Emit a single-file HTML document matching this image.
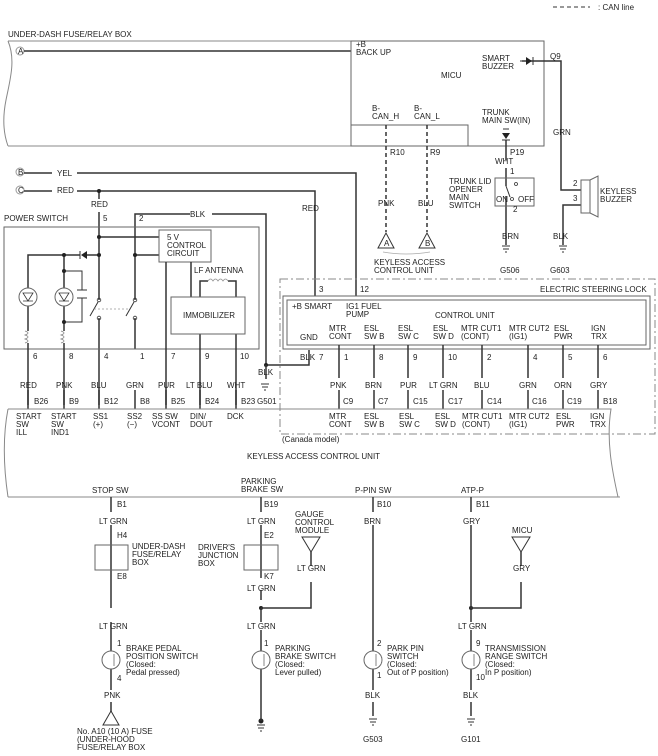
<!DOCTYPE html>
<html><head><meta charset="utf-8"><style>
html,body{margin:0;padding:0;background:#fff;}
svg{display:block;}
text{font-family:"Liberation Sans",sans-serif;font-size:8px;fill:#222;}
</style></head><body>
<svg width="658" height="756" viewBox="0 0 658 756" xmlns="http://www.w3.org/2000/svg">
<g stroke="#333" fill="none" stroke-width="1.5">
<line x1="553" y1="7" x2="590" y2="7" stroke-dasharray="4,3" stroke-width="1"/>
<path d="M8,41 H351 M8,146 H351 M8,41 C16,60 10,80 6,100 C2,120 4,135 8,146" stroke="#888" stroke-width="1"/>
<circle cx="20" cy="51" r="4" stroke="#999" stroke-width="1" fill="#fff"/>
<line x1="24" y1="51" x2="351" y2="51"/>
<rect x="351" y="41" width="193" height="105" stroke="#666" stroke-width="1"/>
<path d="M351,125 H468 V146" stroke="#666" stroke-width="1"/>
<path d="M522,61 H561 V190 H581 M581,205 H563 V245" />
<path d="M520,61 L526,61" stroke-width="1"/>
<polygon points="526,57 526,65 532,61" fill="#222" stroke="none"/>
<line x1="533" y1="57" x2="533" y2="65" stroke-width="1"/>
<line x1="503" y1="129" x2="509" y2="129" stroke-width="1"/>
<polygon points="502,133 510,133 506,139" fill="#222" stroke="none"/>
<line x1="502" y1="140" x2="510" y2="140" stroke-width="1"/>
<path d="M506,140 V160 M506,168 V186 M506,196 V245" />
<rect x="495" y="178" width="39" height="28" stroke="#666" stroke-width="1"/>
<path d="M506,186 L510,197" stroke-width="1"/>
<circle cx="516" cy="184" r="1.5" stroke-width="0.8"/>
<circle cx="512" cy="199" r="1.5" stroke-width="0.8"/>
<rect x="581" y="180" width="9" height="33" stroke="#666" stroke-width="1"/>
<path d="M590,180 L598,176 V217 L590,213" stroke="#666" stroke-width="1"/>
<path d="M386,125 V232 M427,125 V232" stroke-dasharray="4,3"/>
<polygon points="378,248 394,248 386,233" stroke-width="1"/>
<polygon points="419,248 435,248 427,233" stroke-width="1"/>
<path d="M383,252 Q406,256 430,252" stroke="#aaa" stroke-width="0.8"/>
<g stroke-width="1">
<path d="M502,246 H510 M503,249 H509 M505,252 H507"/>
<path d="M559,246 H567 M560,249 H566 M562,252 H564"/>
<path d="M261,384 H269 M262,387 H268 M264,390 H266"/>
<path d="M369,719 H377 M370,722 H376 M372,725 H374"/>
<path d="M467,719 H475 M468,722 H474 M470,725 H472"/>
<path d="M257,725 H265 M258,728 H264 M260,731 H262"/>
</g>
<circle cx="20" cy="172" r="4" stroke="#999" stroke-width="1" fill="#fff"/>
<circle cx="20" cy="190" r="4" stroke="#999" stroke-width="1" fill="#fff"/>
<path d="M24,173 H52 M77,173 H356 V296"/>
<path d="M24,191 H52 M77,191 H315 V296"/>
<path d="M99,191 V199 M99,212 V300 M99,318 V405"/>
<path d="M135,349 V318 M135,300 V214 H190 M212,214 H266 V365 H309 V350"/>
<rect x="4" y="227" width="255" height="122" stroke="#666" stroke-width="1"/>
<path d="M99,237 H159 M135,255 H159"/>
<rect x="159" y="230" width="52" height="32" stroke="#666" stroke-width="1"/>
<path d="M99,255 H87 M80,255 H28 V288 M28,306 V331 M28,343 V405"/>
<polygon points="87,251 87,259 81,255" fill="#222" stroke="none"/>
<line x1="80" y1="251" x2="80" y2="259" stroke-width="1"/>
<path d="M64,255 V288 M64,306 V331 M64,343 V405"/>
<path d="M64,271 H82 V290 M82,298 V322 H64" stroke-width="1"/>
<path d="M77,290 H87 M77,298 H87" stroke-width="1"/>
<circle cx="28" cy="297" r="9" stroke="#666" stroke-width="1"/>
<circle cx="64" cy="297" r="9" stroke="#666" stroke-width="1"/>
<path d="M23,293 H33 L28,301 Z M23,301 H33 M59,293 H69 L64,301 Z M59,301 H69" stroke-width="0.8"/>
<path d="M25,331 Q31,333 25,335 Q31,337 25,339 Q31,341 25,343 M61,331 Q67,333 61,335 Q67,337 61,339 Q67,341 61,343" stroke="#888" stroke-width="0.8"/>
<circle cx="99" cy="300" r="1.8" stroke-width="0.8"/>
<circle cx="99" cy="318" r="1.8" stroke-width="0.8"/>
<circle cx="135" cy="300" r="1.8" stroke-width="0.8"/>
<circle cx="135" cy="318" r="1.8" stroke-width="0.8"/>
<path d="M98,302 L90,316 M134,302 L126,316" stroke-width="1"/>
<path d="M94,309 H130" stroke="#999" stroke-width="0.8" stroke-dasharray="2,2"/>
<path d="M166,262 V405 M191,262 V297 M200,297 V281 H208 M228,281 H236 V297 M200,334 V405 M236,334 V405"/>
<path d="M208,281 q2.5,-4 5,0 q2.5,-4 5,0 q2.5,-4 5,0 q2.5,-4 5,0" stroke="#999" stroke-width="0.8"/>
<rect x="171" y="297" width="74" height="37" stroke="#666" stroke-width="1"/>
<g fill="#222" stroke="none">
<circle cx="99" cy="191" r="2"/><circle cx="99" cy="237" r="2"/><circle cx="99" cy="255" r="2"/>
<circle cx="135" cy="255" r="2"/><circle cx="64" cy="255" r="2"/><circle cx="64" cy="271" r="2"/>
<circle cx="64" cy="322" r="2"/><circle cx="266" cy="365" r="2"/>
<circle cx="261" cy="608" r="2"/><circle cx="471" cy="608" r="2"/><circle cx="261" cy="721" r="2.5"/>
</g>
<path d="M266,365 V379"/>
<rect x="280" y="279" width="375" height="155" stroke="#888" stroke-width="1" stroke-dasharray="8,3,2,3"/>
<rect x="283" y="296" width="367" height="53" stroke="#666" stroke-width="1"/>
<rect x="287" y="300" width="359" height="45" stroke="#666" stroke-width="1"/>
<path d="M339,345 V378 M339,390 V409 M374,345 V378 M374,390 V409 M408,345 V378 M408,390 V409 M443,345 V378 M443,390 V409 M482,345 V378 M482,390 V409 M528,345 V378 M528,390 V409 M563,345 V378 M563,390 V409 M598,345 V378 M598,390 V409"/>
<path d="M28,390 V409 M64,390 V409 M99,390 V409 M135,390 V409 M166,390 V409 M200,390 V409 M236,390 V409" />
<path d="M8,409 H611 C606,440 612,470 618,497 M8,497 H620 M8,409 C2,440 4,470 8,497" stroke="#888" stroke-width="1"/>
<path d="M111,497 V512 M111,525 V608 M111,622 V651 M111,669 V690 M111,702 V712"/>
<rect x="95" y="545" width="33" height="25" stroke="#666" stroke-width="1"/>
<polygon points="103,725 119,725 111,711" stroke-width="1"/>
<path d="M261,497 V512 M261,525 V578 M261,590 V600 M261,608 V622 M261,630 V651 M261,669 V721 M261,608 H311 V582 M311,552 V566"/>
<rect x="244" y="545" width="34" height="25" stroke="#666" stroke-width="1"/>
<polygon points="302,537 320,537 311,552" stroke-width="1"/>
<path d="M373,497 V512 M373,525 V651 M373,669 V690 M373,702 V716"/>
<path d="M471,497 V512 M471,525 V622 M471,630 V651 M471,669 V690 M471,702 V716 M471,608 H521 V582 M521,552 V566"/>
<polygon points="512,537 530,537 521,552" stroke-width="1"/>
<g stroke="#666" stroke-width="1">
<circle cx="111" cy="660" r="9"/><circle cx="261" cy="660" r="9"/><circle cx="373" cy="660" r="9"/><circle cx="471" cy="660" r="9"/>
<path d="M114,654 V666 M264,654 V666 M376,654 V666 M474,654 V666" stroke-width="0.8"/>
</g>
</g>
<text x="598" y="10">: CAN line</text>
<text x="8" y="37">UNDER-DASH FUSE/RELAY BOX</text>
<text x="18" y="54" font-size="7">A</text>
<text x="18" y="175" font-size="7">B</text>
<text x="18" y="193" font-size="7">C</text>
<text x="356" y="47">+B</text><text x="356" y="55">BACK UP</text>
<text x="441" y="78">MICU</text>
<text x="482" y="61">SMART</text><text x="482" y="69">BUZZER</text>
<text x="550" y="59">Q9</text>
<text x="372" y="111">B-</text><text x="372" y="119">CAN_H</text>
<text x="414" y="111">B-</text><text x="414" y="119">CAN_L</text>
<text x="482" y="115">TRUNK</text><text x="482" y="123">MAIN SW(IN)</text>
<text x="390" y="155">R10</text><text x="430" y="155">R9</text><text x="510" y="155">P19</text>
<text x="495" y="164">WHT</text>
<text x="553" y="135">GRN</text>
<text x="449" y="184">TRUNK LID</text><text x="449" y="192">OPENER</text><text x="449" y="200">MAIN</text><text x="449" y="208">SWITCH</text>
<text x="510" y="174">1</text><text x="513" y="212">2</text>
<text x="496" y="202" font-size="7">ON</text><text x="518" y="202" font-size="7">OFF</text>
<text x="573" y="186">2</text><text x="573" y="201">3</text>
<text x="600" y="194">KEYLESS</text><text x="600" y="202">BUZZER</text>
<text x="378" y="206">PNK</text><text x="418" y="206">BLU</text>
<text x="384" y="246" font-size="7">A</text><text x="425" y="246" font-size="7">B</text>
<text x="374" y="265">KEYLESS ACCESS</text><text x="374" y="273">CONTROL UNIT</text>
<text x="502" y="239">BRN</text><text x="553" y="239">BLK</text>
<text x="500" y="273">G506</text><text x="550" y="273">G603</text>
<text x="57" y="176">YEL</text><text x="57" y="193">RED</text>
<text x="91" y="207">RED</text><text x="302" y="211">RED</text>
<text x="190" y="217">BLK</text>
<text x="4" y="221">POWER SWITCH</text>
<text x="103" y="221">5</text><text x="139" y="221">2</text>
<text x="167" y="240">5 V</text><text x="167" y="248">CONTROL</text><text x="167" y="256">CIRCUIT</text>
<text x="194" y="273">LF ANTENNA</text>
<text x="183" y="318">IMMOBILIZER</text>
<text x="33" y="359">6</text><text x="69" y="359">8</text><text x="104" y="359">4</text><text x="140" y="359">1</text><text x="171" y="359">7</text><text x="205" y="359">9</text><text x="240" y="359">10</text>
<text x="20" y="388">RED</text><text x="56" y="388">PNK</text><text x="91" y="388">BLU</text><text x="126" y="388">GRN</text><text x="158" y="388">PUR</text><text x="186" y="388">LT BLU</text><text x="227" y="388">WHT</text>
<text x="34" y="404">B26</text><text x="69" y="404">B9</text><text x="104" y="404">B12</text><text x="140" y="404">B8</text><text x="171" y="404">B25</text><text x="205" y="404">B24</text><text x="241" y="404">B23</text>
<text x="258" y="375">BLK</text><text x="257" y="404">G501</text>
<text x="16" y="419">START</text><text x="16" y="427">SW</text><text x="16" y="435">ILL</text>
<text x="51" y="419">START</text><text x="51" y="427">SW</text><text x="51" y="435">IND1</text>
<text x="93" y="419">SS1</text><text x="93" y="427">(+)</text>
<text x="127" y="419">SS2</text><text x="127" y="427">(−)</text>
<text x="152" y="419">SS SW</text><text x="152" y="427">VCONT</text>
<text x="190" y="419">DIN/</text><text x="190" y="427">DOUT</text>
<text x="227" y="419">DCK</text>
<text x="319" y="292">3</text><text x="360" y="292">12</text>
<text x="540" y="292">ELECTRIC STEERING LOCK</text>
<text x="292" y="309">+B SMART</text>
<text x="346" y="309">IG1 FUEL</text><text x="346" y="317">PUMP</text>
<text x="435" y="318">CONTROL UNIT</text>
<text x="300" y="340">GND</text>
<text x="329" y="331">MTR</text><text x="329" y="339">CONT</text>
<text x="364" y="331">ESL</text><text x="364" y="339">SW B</text>
<text x="398" y="331">ESL</text><text x="398" y="339">SW C</text>
<text x="433" y="331">ESL</text><text x="433" y="339">SW D</text>
<text x="461" y="331">MTR CUT1</text><text x="461" y="339">(CONT)</text>
<text x="509" y="331">MTR CUT2</text><text x="509" y="339">(IG1)</text>
<text x="554" y="331">ESL</text><text x="554" y="339">PWR</text>
<text x="591" y="331">IGN</text><text x="591" y="339">TRX</text>
<text x="300" y="360">BLK</text><text x="319" y="360">7</text>
<text x="344" y="360">1</text><text x="379" y="360">8</text><text x="413" y="360">9</text><text x="448" y="360">10</text><text x="487" y="360">2</text><text x="533" y="360">4</text><text x="568" y="360">5</text><text x="603" y="360">6</text>
<text x="330" y="388">PNK</text><text x="365" y="388">BRN</text><text x="400" y="388">PUR</text><text x="429" y="388">LT GRN</text><text x="474" y="388">BLU</text><text x="519" y="388">GRN</text><text x="554" y="388">ORN</text><text x="590" y="388">GRY</text>
<text x="343" y="404">C9</text><text x="378" y="404">C7</text><text x="413" y="404">C15</text><text x="448" y="404">C17</text><text x="487" y="404">C14</text><text x="532" y="404">C16</text><text x="567" y="404">C19</text><text x="603" y="404">B18</text>
<text x="329" y="419">MTR</text><text x="329" y="427">CONT</text>
<text x="364" y="419">ESL</text><text x="364" y="427">SW B</text>
<text x="399" y="419">ESL</text><text x="399" y="427">SW C</text>
<text x="435" y="419">ESL</text><text x="435" y="427">SW D</text>
<text x="462" y="419">MTR CUT1</text><text x="462" y="427">(CONT)</text>
<text x="509" y="419">MTR CUT2</text><text x="509" y="427">(IG1)</text>
<text x="556" y="419">ESL</text><text x="556" y="427">PWR</text>
<text x="590" y="419">IGN</text><text x="590" y="427">TRX</text>
<text x="282" y="442">(Canada model)</text>
<text x="247" y="459">KEYLESS ACCESS CONTROL UNIT</text>
<text x="92" y="493">STOP SW</text>
<text x="241" y="484">PARKING</text><text x="241" y="492">BRAKE SW</text>
<text x="355" y="493">P-PIN SW</text><text x="461" y="493">ATP-P</text>
<text x="117" y="507">B1</text><text x="264" y="507">B19</text><text x="377" y="507">B10</text><text x="476" y="507">B11</text>
<text x="99" y="524">LT GRN</text><text x="247" y="524">LT GRN</text><text x="364" y="524">BRN</text><text x="463" y="524">GRY</text>
<text x="117" y="538">H4</text><text x="264" y="538">E2</text>
<text x="295" y="517">GAUGE</text><text x="295" y="525">CONTROL</text><text x="295" y="533">MODULE</text>
<text x="512" y="533">MICU</text>
<text x="132" y="549">UNDER-DASH</text><text x="132" y="557">FUSE/RELAY</text><text x="132" y="565">BOX</text>
<text x="198" y="550">DRIVER'S</text><text x="198" y="558">JUNCTION</text><text x="198" y="566">BOX</text>
<text x="117" y="579">E8</text><text x="264" y="579">K7</text>
<text x="297" y="571">LT GRN</text><text x="513" y="571">GRY</text>
<text x="247" y="591">LT GRN</text>
<text x="99" y="629">LT GRN</text><text x="247" y="629">LT GRN</text><text x="458" y="629">LT GRN</text>
<text x="117" y="646">1</text><text x="264" y="646">1</text><text x="377" y="646">2</text><text x="476" y="646">9</text>
<text x="126" y="651">BRAKE PEDAL</text><text x="126" y="659">POSITION SWITCH</text><text x="126" y="667">(Closed:</text><text x="126" y="675">Pedal pressed)</text>
<text x="275" y="651">PARKING</text><text x="275" y="659">BRAKE SWITCH</text><text x="275" y="667">(Closed:</text><text x="275" y="675">Lever pulled)</text>
<text x="387" y="651">PARK PIN</text><text x="387" y="659">SWITCH</text><text x="387" y="667">(Closed:</text><text x="387" y="675">Out of P position)</text>
<text x="485" y="651">TRANSMISSION</text><text x="485" y="659">RANGE SWITCH</text><text x="485" y="667">(Closed:</text><text x="485" y="675">In P position)</text>
<text x="117" y="681">4</text><text x="377" y="678">1</text><text x="476" y="680">10</text>
<text x="104" y="698">PNK</text><text x="365" y="698">BLK</text><text x="463" y="698">BLK</text>
<text x="77" y="734">No. A10 (10 A) FUSE</text><text x="77" y="742">(UNDER-HOOD</text><text x="77" y="750">FUSE/RELAY BOX</text>
<text x="363" y="742">G503</text><text x="461" y="742">G101</text>
</svg>
</body></html>
